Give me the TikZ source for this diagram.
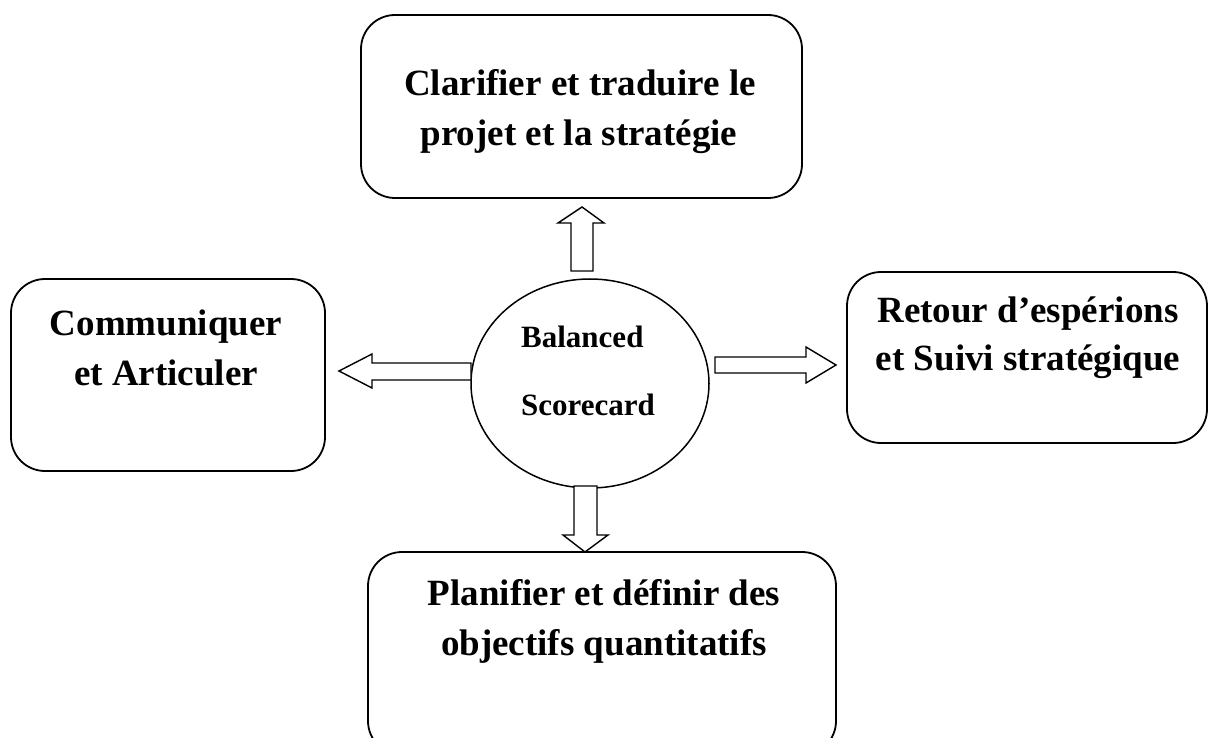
\documentclass[tikz,border=0pt]{standalone}
\usepackage{fontspec}
\setmainfont{Liberation Serif}
\usetikzlibrary{shapes.geometric}
\begin{document}
\begin{tikzpicture}[x=1pt,y=-1pt,
  box/.style={draw, line width=1.8pt, rounded corners=34pt, rectangle, inner sep=0pt},
  hub/.style={draw, ellipse, line width=1.5pt, inner sep=0pt},
  boxtext/.style={font=\bfseries\fontsize{37}{50}\selectfont, inner sep=0pt, anchor=base},
  hubtext/.style={font=\bfseries\fontsize{31}{40}\selectfont, inner sep=0pt, anchor=base west},
  blockarrow/.style={draw, line width=1.4pt, fill=white, line join=miter}]
\useasboundingbox (0,0) rectangle (1208,738);
\clip (0,0) rectangle (1208,738);

% the four boxes around the hub
\node[box, minimum width=441pt, minimum height=183pt] (top) at (581.5,106.5) {};
\node[box, minimum width=314pt, minimum height=192pt] (left) at (168,375) {};
\node[box, minimum width=360pt, minimum height=171pt] (right) at (1027,357.5) {};
\node[box, minimum width=468pt, minimum height=203pt] (bottom) at (602,653.5) {};

% central hub
\node[hub, minimum width=238pt, minimum height=209pt] (hub) at (590,383.5) {};

% box texts
\node[boxtext] (t1) at (580,96) {Clarifier et traduire le};
\node[boxtext] (t2) at (579,146) {projet et la stratégie};
\node[boxtext] (l1) at (166,335) {Communiquer};
\node[boxtext] (l2) at (166,385) {et Articuler};
\node[boxtext] (r1) at (1028,322) {Retour d’espérions};
\node[boxtext] (r2) at (1028,370) {et Suivi stratégique};
\node[boxtext] (b1) at (604,605) {Planifier et définir des};
\node[boxtext] (b2) at (604,655) {objectifs quantitatifs};
\node[hubtext] (h1) at (521,347) {Balanced};
\node[hubtext] (h2) at (521,415) {Scorecard};

% block arrows from the hub to each box
\draw[blockarrow] (571,271) -- (571,223) -- (558,223) -- (582,207) -- (604,223)
  -- (593,223) -- (593,271) -- cycle;
\draw[blockarrow] (471,363) -- (372,363) -- (372,354) -- (339,371) -- (372,388)
  -- (372,380) -- (471,380) -- cycle;
\draw[blockarrow] (715,357) -- (806,357) -- (806,347) -- (836,365) -- (806,383)
  -- (806,373) -- (715,373) -- cycle;
\draw[blockarrow] (574,486) -- (574,535) -- (563,535) -- (585,552) -- (608,535)
  -- (597,535) -- (597,486) -- cycle;
\end{tikzpicture}
\end{document}
